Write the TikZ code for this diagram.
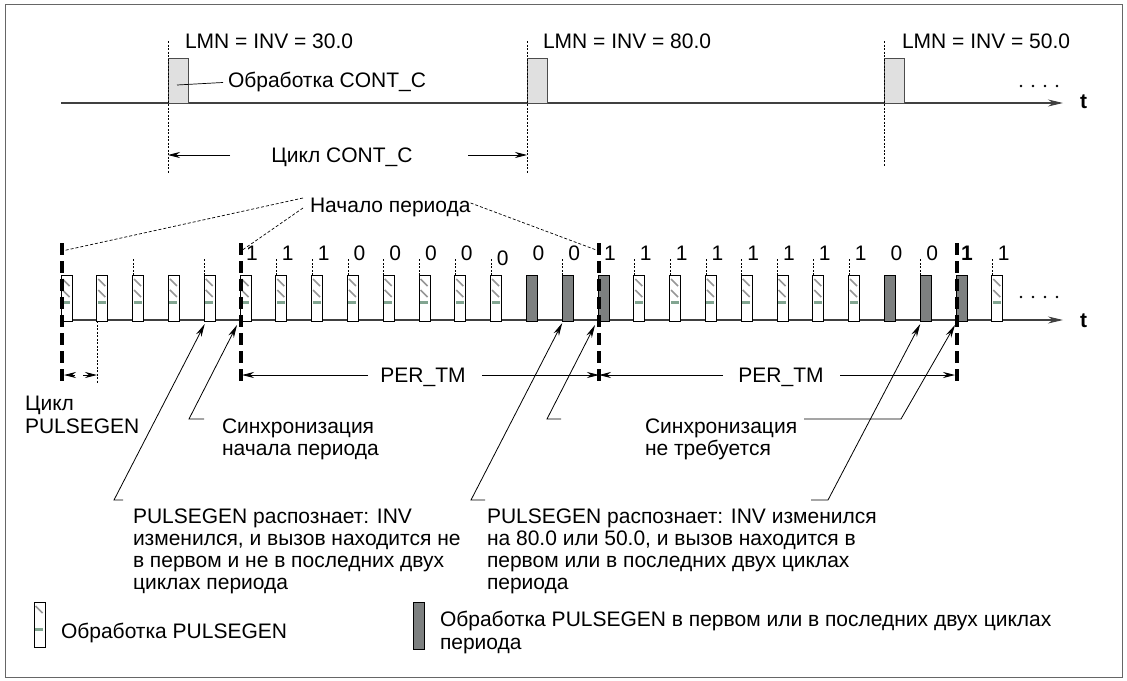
\documentclass[tikz,border=0pt]{standalone}
\usepackage{fontspec}
\setmainfont{Liberation Sans}
\usetikzlibrary{arrows.meta}
\definecolor{boxgray}{RGB}{224,224,224}
\definecolor{darkbox}{RGB}{125,128,128}
\definecolor{hatchgray}{RGB}{150,150,150}
\definecolor{hatchgreen}{RGB}{130,165,145}
\begin{document}
\begin{tikzpicture}[x=1pt,y=-1pt,
  every node/.style={font=\fontsize{21}{22}\selectfont, inner sep=0pt, outer sep=0pt},
  lbl/.style={anchor=base west},
  axisline/.style={line width=1.1pt, draw=black!75, -{Stealth[length=15pt,width=7pt]}},
  dimarr/.style={line width=0.8pt, -{Stealth[length=12pt,width=6pt]}},
  leader/.style={line width=0.8pt, -{Stealth[length=13pt,width=6pt]}},
  fine/.style={line width=0.7pt, dash pattern=on 2pt off 1.5pt},
  hint/.style={line width=0.7pt, dash pattern=on 3pt off 2pt},
  perline/.style={line width=3.8pt, dash pattern=on 12pt off 6pt},
  cbox/.style={draw=black!70, fill=boxgray, line width=0.8pt, minimum width=20pt, minimum height=45pt, anchor=south west},
  pbox/.style={draw=black, fill=white, line width=0.9pt, minimum width=11pt, minimum height=46pt, anchor=north west},
  dbox/.style={draw=black, fill=darkbox, line width=0.9pt, minimum width=11pt, minimum height=46pt, anchor=north west},
  dotmark/.style={fill=black, circle, minimum size=2.6pt},
]
\useasboundingbox (0,0) rectangle (1127,680);
\draw[line width=1pt, black!60] (5,4) rectangle (1122,677);

% ---------------- top row: CONT_C ----------------
\coordinate (ta) at (61,103);
\coordinate (tb) at (1063,103);
\draw[axisline] (ta) -- (tb);
\node[lbl, font=\fontsize{21}{22}\selectfont\bfseries] (tt) at (1080,108.5) {t};
\foreach \k/\xx in {1/1021,2/1033,3/1045,4/1057} \node[dotmark] (td\k) at (\xx,86) {};

\node[cbox] (c1) at (168,103) {};
\node[cbox] (c2) at (527,103) {};
\node[cbox] (c3) at (884,103) {};
\foreach \k in {1,2,3}{
  \path (c\k.south west) ++(0,-62) coordinate (cv\k a) ++(0,132) coordinate (cv\k b);
}
\path (c3.south west) ++(0,64) coordinate (cv3b);
\draw[fine] (cv1a) -- (cv1b);
\draw[fine] (cv2a) -- (cv2b);
\draw[fine] (cv3a) -- (cv3b);

\node[lbl] (lmn1) at (185,48.5) {LMN = INV = 30.0};
\node[lbl] (lmn2) at (543,48.5) {LMN = INV = 80.0};
\node[lbl] (lmn3) at (902,48.5) {LMN = INV = 50.0};

\node[lbl] (proc) at (228,87) {Обработка CONT\_C};
\coordinate (procin) at (177,85);
\draw[line width=0.7pt] (procin) -- ([xshift=-5pt,yshift=-1pt]proc.west);

\node[anchor=base] (cyc) at (342,162.5) {Цикл CONT\_C};
\coordinate (cycL) at (230,155);
\coordinate (cycR) at (468,155);
\draw[dimarr] (cycL) -- (cv1a |- cycL);
\draw[dimarr] (cycR) -- (cv2a |- cycR);

% ---------------- bottom row: PULSEGEN ----------------
\coordinate (ba) at (61,320);
\coordinate (bb) at (1063,320);
\draw[axisline] (ba) -- (bb);
\node[lbl, font=\fontsize{21}{22}\selectfont\bfseries] (bt) at (1080,327) {t};
\foreach \k/\xx in {1/1021,2/1033,3/1045,4/1057} \node[dotmark] (bd\k) at (\xx,297) {};

% hatched (normal) cycles
\foreach \i in {0,1,...,12,16,17,...,22,26}{
  \pgfmathsetmacro{\xx}{61+35.8*\i}
  \node[pbox] (p\i) at (\xx,275) {};
  \draw[hatchgray, line width=1.6pt] ([shift={(1.5,4)}]p\i.north west) -- ++(7,7);
  \draw[hatchgray, line width=1.6pt] ([shift={(1.5,15)}]p\i.north west) -- ++(7,7);
  \fill[hatchgreen] ([shift={(1,26)}]p\i.north west) rectangle ++(8,3);
}
% dark cycles (first / last two of period)
\foreach \i in {13,14,15,23,24,25}{
  \pgfmathsetmacro{\xx}{61+35.8*\i}
  \node[dbox] (p\i) at (\xx,275) {};
}

% small dashed ticks above cycles
\foreach \i in {2,4,6,7,8,9,10,11,12,14,16,17,18,19,20,21,22,24,26}{
  \draw[fine] ([xshift=0.5pt]p\i.north west) -- ++(0,-17);
}
% extension for "Цикл PULSEGEN"
\draw[fine] ([xshift=0.5pt]p1.south west) -- ++(0,62);

% period boundaries
\foreach \i in {0,5,15,25}{
  \path (p\i.north west) ++(1,-32) coordinate (pb\i a) ++(0,140) coordinate (pb\i b);
  \draw[perline] (pb\i a) -- (pb\i b);
}

% bit values
\foreach \i/\v in {5/1,6/1,7/1,8/0,9/0,10/0,11/0,13/0,14/0,15/1,16/1,17/1,18/1,19/1,20/1,21/1,22/1,23/0,24/0,26/1}{
  \node[anchor=base] (n\i) at ([shift={(12,-15)}]p\i.north west) {\v};
}
\node[anchor=base] (n12) at ([shift={(12,-10)}]p12.north west) {0};
\node[anchor=base, font=\fontsize{21}{22}\selectfont\bfseries] (n25) at ([shift={(11,-15)}]p25.north west) {1};

% "Начало периода"
\node[lbl] (start) at (310,212.5) {Начало периода};
\draw[hint] (303,198) -- ([yshift=-8pt]pb0a);
\draw[hint] (303,208) -- ([yshift=-8pt]pb5a);
\draw[hint] (start.east |- 0,203) -- ([yshift=-8pt]pb15a);

% "Цикл PULSEGEN"
\coordinate (pgL) at (75,375);
\coordinate (pgR) at (83,375);
\draw[dimarr] (pgL) -- (64,375);
\draw[dimarr] (pgR) -- (97,375);
\node[lbl] (pg1) at (25,410) {Цикл};
\node[lbl] (pg2) at (25,433.5) {PULSEGEN};

% PER_TM
\node[anchor=base] (per1) at (423,382.5) {PER\_TM};
\node[anchor=base] (per2) at (781,382.5) {PER\_TM};
\draw[dimarr] (368,375) -- (242,375);
\draw[dimarr] (482,375) -- (599,375);
\draw[dimarr] (723,375) -- (599,375);
\draw[dimarr] (840,375) -- (955,375);

% sync texts
\node[lbl] (syncA1) at (222,433) {Синхронизация};
\node[lbl] (syncA2) at (222,455) {начала периода};
\node[lbl] (syncB1) at (645,433) {Синхронизация};
\node[lbl] (syncB2) at (645,455) {не требуется};

% recognise texts
\node[lbl] (recA1) at (133,523) {PULSEGEN распознает: INV};
\node[lbl] (recA2) at (133,545) {изменился, и вызов находится не};
\node[lbl] (recA3) at (133,567) {в первом и не в последних двух};
\node[lbl] (recA4) at (133,589) {циклах периода};
\node[lbl] (recB1) at (487,523) {PULSEGEN распознает: INV изменился};
\node[lbl] (recB2) at (487,545) {на 80.0 или 50.0, и вызов находится в};
\node[lbl] (recB3) at (487,567) {первом или в последних двух циклах};
\node[lbl] (recB4) at (487,589) {периода};

% leaders
\coordinate (tipA) at ([shift={(0.5,3)}]p4.south west);
\coordinate (tipB) at (237,325);
\coordinate (tipC) at ([shift={(0,2)}]p14.south west);
\coordinate (tipD) at ([shift={(0,3)}]p24.south west);
\coordinate (tipE) at (955,325);
\coordinate (tipF) at (595,325);
\draw[leader] (123,500) -- (114,500) -- (tipA);
\draw[leader] (204,419) -- (189,419) -- (tipB);
\draw[leader] (485,500) -- (471,500) -- (tipC);
\draw[leader] (811,500) -- (828,500) -- (tipD);
\draw[leader] (804,419) -- (901,419) -- (tipE);
\draw[leader] (561,419) -- (547,419) -- (tipF);

% ---------------- legend ----------------
\node[pbox, minimum height=45pt] (lg1) at (34,602) {};
\draw[hatchgray, line width=1.6pt] ([shift={(1.5,4)}]lg1.north west) -- ++(7,7);
\fill[hatchgreen] ([shift={(1,26)}]lg1.north west) rectangle ++(8,3);
\node[lbl] (lgt1) at (61,638) {Обработка PULSEGEN};
\node[dbox, minimum height=47pt] (lg2) at (413,602) {};
\node[lbl] (lgt2a) at (440,626) {Обработка PULSEGEN в первом или в последних двух циклах};
\node[lbl] (lgt2b) at (440,649) {периода};
\end{tikzpicture}
\end{document}
